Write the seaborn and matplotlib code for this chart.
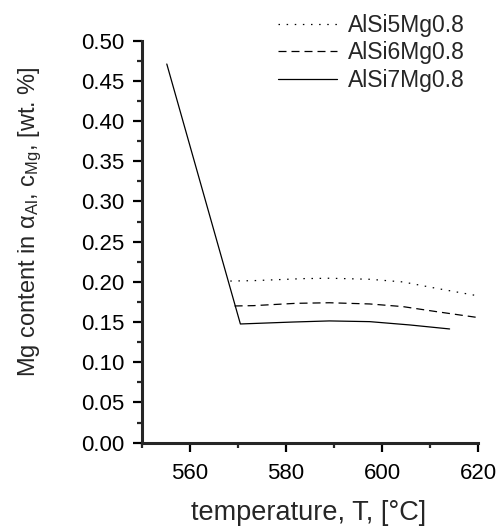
import numpy as np
import pandas as pd
import matplotlib
matplotlib.use("Agg")
import matplotlib.pyplot as plt
import seaborn as sns
from matplotlib.ticker import MultipleLocator, FormatStrFormatter

# values
t_si5 = [568.4, 573.2, 583.5, 589.0, 597.4, 604.3, 611.2, 620.0]
mg_si5 = [0.201, 0.2015, 0.204, 0.2045, 0.2032, 0.1999, 0.192, 0.1825]

t_si6 = [569.3, 573.2, 582.1, 589.0, 597.4, 604.3, 611.2, 620.0]
mg_si6 = [0.170, 0.1704, 0.1733, 0.174, 0.1725, 0.1692, 0.163, 0.1555]

t_si7 = [555.2, 570.5, 581.3, 589.0, 597.4, 605.7, 614.0]
mg_si7 = [0.471, 0.1476, 0.150, 0.1514, 0.1505, 0.1464, 0.1414]

labels = ["AlSi5Mg0.8", "AlSi6Mg0.8", "AlSi7Mg0.8"]

sns.set_style("ticks")
plt.rcParams['font.family'] = ['Liberation Sans', 'DejaVu Sans']
plt.rcParams['mathtext.fontset'] = 'custom'
plt.rcParams['mathtext.rm'] = 'Liberation Sans'
plt.rcParams['mathtext.it'] = 'Liberation Sans:italic'

fig = plt.figure(figsize=(5.01, 5.32), dpi=100)
ax = fig.add_axes([0.283, 0.168, 0.672, 0.7555])

sns.lineplot(x=t_si5, y=mg_si5, ax=ax, color='black', linewidth=0.9,
             linestyle=(0, (1.2, 5.3)), label=labels[0])
sns.lineplot(x=t_si6, y=mg_si6, ax=ax, color='black', linewidth=0.9,
             linestyle=(0, (6.4, 4.0)), label=labels[1])
sns.lineplot(x=t_si7, y=mg_si7, ax=ax, color='black', linewidth=0.9,
             linestyle='-', label=labels[2])

ax.set_xlim(550, 620)
ax.set_ylim(0, 0.5)
ax.xaxis.set_major_locator(MultipleLocator(20))
ax.xaxis.set_minor_locator(MultipleLocator(10))
ax.yaxis.set_major_locator(MultipleLocator(0.05))
ax.yaxis.set_minor_locator(MultipleLocator(0.025))
ax.yaxis.set_major_formatter(FormatStrFormatter('%.2f'))

sns.despine(ax=ax)
for s in ['left', 'bottom']:
    ax.spines[s].set_linewidth(2.2)
ax.tick_params(which='major', direction='out', length=6.5, width=1.6,
               labelsize=16, colors='black')
ax.tick_params(which='minor', direction='out', length=3.6, width=1.6)
ax.tick_params(axis='y', which='major', pad=6)
ax.tick_params(axis='x', which='major', pad=8)

ax.set_xlabel('temperature, T, [°C]', fontsize=19.5)
ax.set_ylabel(r'Mg content in α$_{\mathrm{Al}}$, c$_{\mathrm{Mg}}$, [wt. %]',
              fontsize=17)
ax.xaxis.set_label_coords(0.496, -0.142)
ax.yaxis.set_label_coords(-0.29, 0.55)

ax.get_legend().remove()
h, l = ax.get_legend_handles_labels()
fig.legend(h, l, loc='upper right', bbox_to_anchor=(0.95, 0.996),
           frameon=False, fontsize=16.5, borderpad=0, handlelength=2.6,
           handletextpad=0.45, labelspacing=0.2)

fig.savefig('out.png', dpi=100)
